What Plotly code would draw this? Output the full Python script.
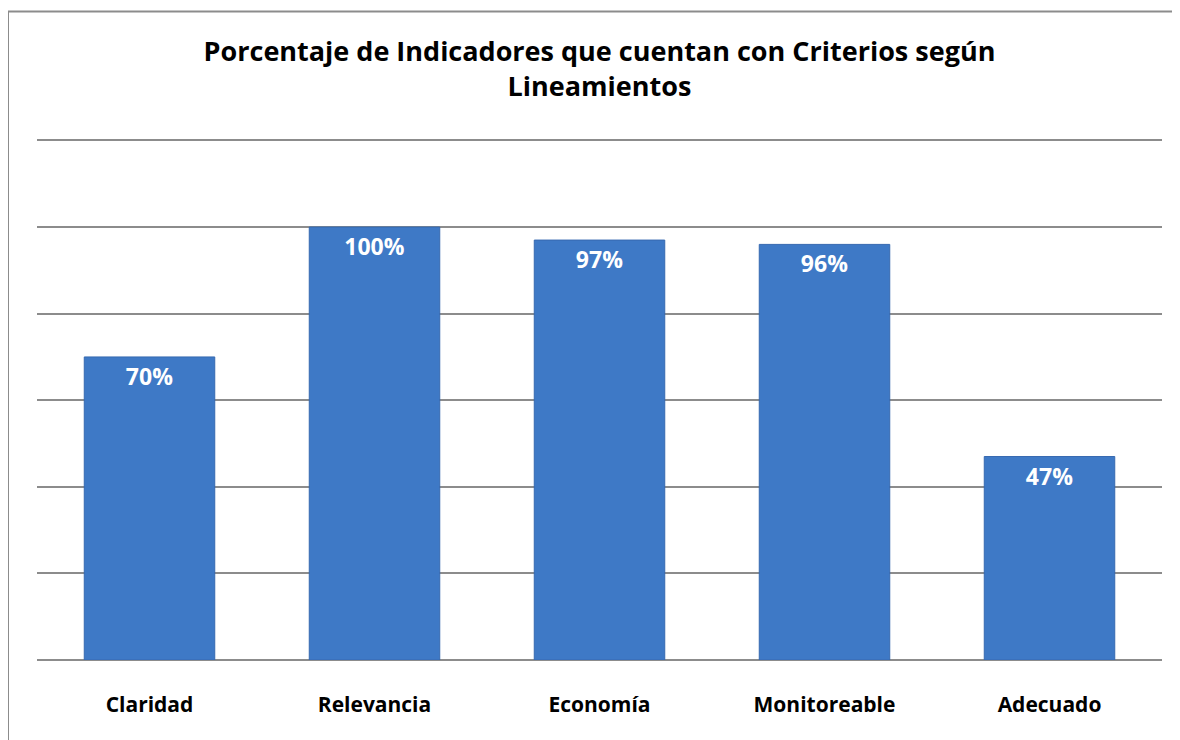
import plotly.graph_objects as go

categories = ["Claridad", "Relevancia", "Economía", "Monitoreable", "Adecuado"]
values = [70, 100, 97, 96, 47]
title_text = "Porcentaje de Indicadores que cuentan con Criterios según<br>Lineamientos"

FONT = "Open Sans"

# page body has an 8px margin; figure coordinates are offset accordingly
OFF = 8
YMAX = 121.5
PX_PER_UNIT = 520 / 120
EXTRA = (YMAX - 120) * PX_PER_UNIT
L, R = 37 - OFF, 1180 + OFF - 1162
T, B = 140 - EXTRA - OFF, 740 + OFF - 660
PW, PH = 1180 - L - R, 740 - T - B

fig = go.Figure(
    go.Bar(
        x=categories,
        y=values,
        text=[f"{v}%" for v in values],
        textposition="inside",
        insidetextanchor="end",
        textangle=0,
        textfont=dict(family=FONT, size=23, color="white", weight="bold"),
        marker=dict(color="#3e79c6", line=dict(color="#3669b0", width=1)),
        cliponaxis=False,
    )
)

fig.update_layout(
    width=1180,
    height=740,
    margin=dict(l=L, r=R, t=T, b=B),
    paper_bgcolor="white",
    plot_bgcolor="white",
    bargap=0.42,
    showlegend=False,
    title=dict(
        text=title_text,
        x=0.5,
        xref="paper",
        xanchor="center",
        y=(740 - (61 - OFF)) / 740,
        yanchor="middle",
        yref="container",
        font=dict(family=FONT, size=27, color="black", weight="bold", lineposition="none"),
    ),
    xaxis=dict(
        showgrid=False,
        showline=False,
        ticks="",
        tickfont=dict(family=FONT, size=21, color="black", weight="bold"),
        ticklabelstandoff=30,
    ),
    yaxis=dict(
        range=[0, YMAX],
        tickvals=[0, 20, 40, 60, 80, 100, 120],
        showgrid=True,
        gridcolor="#8c8c8c",
        gridwidth=2,
        showticklabels=False,
        zeroline=True,
        zerolinecolor="#8c8c8c",
        zerolinewidth=2,
        fixedrange=True,
    ),
    uniformtext=dict(minsize=10, mode="show"),
    shapes=[
        dict(
            type="rect",
            xref="paper",
            yref="paper",
            x0=(8 - 37) / PW,
            x1=(1200 - 37) / PW,
            y0=(660 - 760) / PH,
            y1=(660 - 11) / PH,
            line=dict(color="#8c8c8c", width=2),
            fillcolor="rgba(0,0,0,0)",
            layer="below",
        )
    ],
)

fig.write_html("out.html")
